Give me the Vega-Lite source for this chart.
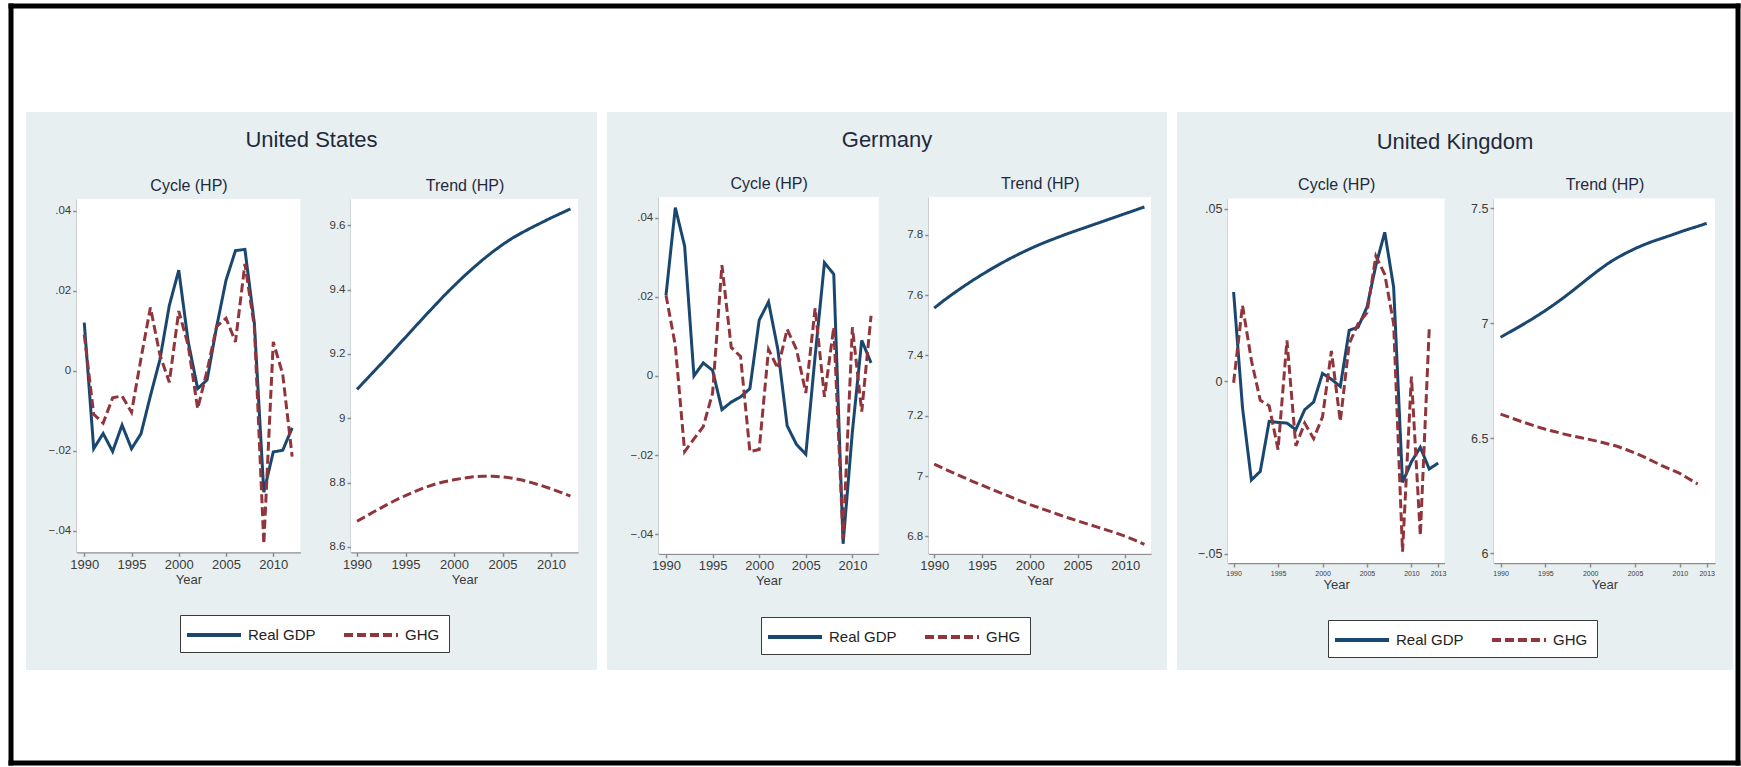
{
  "$schema": "https://vega.github.io/schema/vega-lite/v6.json",
  "padding": {"left": 7, "top": 5, "right": 2, "bottom": 0},
  "background": "white",
  "spacing": 10,
  "bounds": "flush",
  "datasets": {
    "us": [
      {"year":1990,"series":"Real GDP","cycle":0.012,"trend":9.09},
      {"year":1991,"series":"Real GDP","cycle":-0.0195,"trend":9.122},
      {"year":1992,"series":"Real GDP","cycle":-0.0157,"trend":9.154},
      {"year":1993,"series":"Real GDP","cycle":-0.0202,"trend":9.186},
      {"year":1994,"series":"Real GDP","cycle":-0.0136,"trend":9.219},
      {"year":1995,"series":"Real GDP","cycle":-0.0195,"trend":9.252},
      {"year":1996,"series":"Real GDP","cycle":-0.0158,"trend":9.285},
      {"year":1997,"series":"Real GDP","cycle":-0.0063,"trend":9.318},
      {"year":1998,"series":"Real GDP","cycle":0.0027,"trend":9.35},
      {"year":1999,"series":"Real GDP","cycle":0.0163,"trend":9.382},
      {"year":2000,"series":"Real GDP","cycle":0.0251,"trend":9.412},
      {"year":2001,"series":"Real GDP","cycle":0.0072,"trend":9.441},
      {"year":2002,"series":"Real GDP","cycle":-0.0045,"trend":9.468},
      {"year":2003,"series":"Real GDP","cycle":-0.0023,"trend":9.494},
      {"year":2004,"series":"Real GDP","cycle":0.0109,"trend":9.518},
      {"year":2005,"series":"Real GDP","cycle":0.0226,"trend":9.54},
      {"year":2006,"series":"Real GDP","cycle":0.03,"trend":9.56},
      {"year":2007,"series":"Real GDP","cycle":0.0303,"trend":9.577},
      {"year":2008,"series":"Real GDP","cycle":0.0118,"trend":9.593},
      {"year":2009,"series":"Real GDP","cycle":-0.0304,"trend":9.608},
      {"year":2010,"series":"Real GDP","cycle":-0.0203,"trend":9.623},
      {"year":2011,"series":"Real GDP","cycle":-0.0199,"trend":9.637},
      {"year":2012,"series":"Real GDP","cycle":-0.0143,"trend":9.651},
      {"year":1990,"series":"GHG","cycle":0.009,"trend":8.68},
      {"year":1991,"series":"GHG","cycle":-0.0109,"trend":8.697},
      {"year":1992,"series":"GHG","cycle":-0.0131,"trend":8.714},
      {"year":1993,"series":"GHG","cycle":-0.0068,"trend":8.73},
      {"year":1994,"series":"GHG","cycle":-0.0063,"trend":8.746},
      {"year":1995,"series":"GHG","cycle":-0.0104,"trend":8.76},
      {"year":1996,"series":"GHG","cycle":0.003,"trend":8.773},
      {"year":1997,"series":"GHG","cycle":0.0158,"trend":8.785},
      {"year":1998,"series":"GHG","cycle":0.004,"trend":8.795},
      {"year":1999,"series":"GHG","cycle":-0.0029,"trend":8.803},
      {"year":2000,"series":"GHG","cycle":0.0149,"trend":8.809},
      {"year":2001,"series":"GHG","cycle":0.0063,"trend":8.814},
      {"year":2002,"series":"GHG","cycle":-0.0095,"trend":8.818},
      {"year":2003,"series":"GHG","cycle":0.0,"trend":8.82},
      {"year":2004,"series":"GHG","cycle":0.011,"trend":8.82},
      {"year":2005,"series":"GHG","cycle":0.0131,"trend":8.818},
      {"year":2006,"series":"GHG","cycle":0.0072,"trend":8.814},
      {"year":2007,"series":"GHG","cycle":0.0267,"trend":8.808},
      {"year":2008,"series":"GHG","cycle":0.0109,"trend":8.8},
      {"year":2009,"series":"GHG","cycle":-0.0433,"trend":8.791},
      {"year":2010,"series":"GHG","cycle":0.0072,"trend":8.781},
      {"year":2011,"series":"GHG","cycle":-0.0009,"trend":8.77},
      {"year":2012,"series":"GHG","cycle":-0.0215,"trend":8.758}
    ],
    "de": [
      {"year":1990,"series":"Real GDP","cycle":0.0204,"trend":7.557},
      {"year":1991,"series":"Real GDP","cycle":0.0425,"trend":7.582},
      {"year":1992,"series":"Real GDP","cycle":0.0328,"trend":7.605},
      {"year":1993,"series":"Real GDP","cycle":0.0,"trend":7.627},
      {"year":1994,"series":"Real GDP","cycle":0.0033,"trend":7.648},
      {"year":1995,"series":"Real GDP","cycle":0.0014,"trend":7.668},
      {"year":1996,"series":"Real GDP","cycle":-0.0085,"trend":7.687},
      {"year":1997,"series":"Real GDP","cycle":-0.0066,"trend":7.705},
      {"year":1998,"series":"Real GDP","cycle":-0.0053,"trend":7.722},
      {"year":1999,"series":"Real GDP","cycle":-0.0032,"trend":7.738},
      {"year":2000,"series":"Real GDP","cycle":0.0141,"trend":7.753},
      {"year":2001,"series":"Real GDP","cycle":0.0187,"trend":7.767},
      {"year":2002,"series":"Real GDP","cycle":0.0067,"trend":7.78},
      {"year":2003,"series":"Real GDP","cycle":-0.0126,"trend":7.792},
      {"year":2004,"series":"Real GDP","cycle":-0.0173,"trend":7.804},
      {"year":2005,"series":"Real GDP","cycle":-0.0198,"trend":7.815},
      {"year":2006,"series":"Real GDP","cycle":0.005,"trend":7.826},
      {"year":2007,"series":"Real GDP","cycle":0.0286,"trend":7.837},
      {"year":2008,"series":"Real GDP","cycle":0.0257,"trend":7.848},
      {"year":2009,"series":"Real GDP","cycle":-0.0424,"trend":7.859},
      {"year":2010,"series":"Real GDP","cycle":-0.014,"trend":7.87},
      {"year":2011,"series":"Real GDP","cycle":0.009,"trend":7.881},
      {"year":2012,"series":"Real GDP","cycle":0.0033,"trend":7.892},
      {"year":1990,"series":"GHG","cycle":0.0204,"trend":7.04},
      {"year":1991,"series":"GHG","cycle":0.0077,"trend":7.025},
      {"year":1992,"series":"GHG","cycle":-0.0191,"trend":7.011},
      {"year":1993,"series":"GHG","cycle":-0.0159,"trend":6.997},
      {"year":1994,"series":"GHG","cycle":-0.0128,"trend":6.983},
      {"year":1995,"series":"GHG","cycle":-0.0043,"trend":6.97},
      {"year":1996,"series":"GHG","cycle":0.028,"trend":6.957},
      {"year":1997,"series":"GHG","cycle":0.0072,"trend":6.944},
      {"year":1998,"series":"GHG","cycle":0.0049,"trend":6.931},
      {"year":1999,"series":"GHG","cycle":-0.0191,"trend":6.918},
      {"year":2000,"series":"GHG","cycle":-0.0186,"trend":6.906},
      {"year":2001,"series":"GHG","cycle":0.0067,"trend":6.895},
      {"year":2002,"series":"GHG","cycle":0.0019,"trend":6.884},
      {"year":2003,"series":"GHG","cycle":0.0118,"trend":6.873},
      {"year":2004,"series":"GHG","cycle":0.0067,"trend":6.862},
      {"year":2005,"series":"GHG","cycle":-0.0043,"trend":6.852},
      {"year":2006,"series":"GHG","cycle":0.0171,"trend":6.842},
      {"year":2007,"series":"GHG","cycle":-0.0053,"trend":6.832},
      {"year":2008,"series":"GHG","cycle":0.0123,"trend":6.822},
      {"year":2009,"series":"GHG","cycle":-0.0412,"trend":6.812},
      {"year":2010,"series":"GHG","cycle":0.0123,"trend":6.801},
      {"year":2011,"series":"GHG","cycle":-0.009,"trend":6.788},
      {"year":2012,"series":"GHG","cycle":0.0152,"trend":6.774}
    ],
    "uk": [
      {"year":1990,"series":"Real GDP","cycle":0.0258,"trend":6.94},
      {"year":1991,"series":"Real GDP","cycle":-0.0077,"trend":6.962},
      {"year":1992,"series":"Real GDP","cycle":-0.0287,"trend":6.984},
      {"year":1993,"series":"Real GDP","cycle":-0.0262,"trend":7.007},
      {"year":1994,"series":"Real GDP","cycle":-0.0117,"trend":7.031},
      {"year":1995,"series":"Real GDP","cycle":-0.012,"trend":7.056},
      {"year":1996,"series":"Real GDP","cycle":-0.0122,"trend":7.083},
      {"year":1997,"series":"Real GDP","cycle":-0.0141,"trend":7.111},
      {"year":1998,"series":"Real GDP","cycle":-0.0083,"trend":7.141},
      {"year":1999,"series":"Real GDP","cycle":-0.0061,"trend":7.172},
      {"year":2000,"series":"Real GDP","cycle":0.0022,"trend":7.203},
      {"year":2001,"series":"Real GDP","cycle":0.0005,"trend":7.233},
      {"year":2002,"series":"Real GDP","cycle":-0.0016,"trend":7.261},
      {"year":2003,"series":"Real GDP","cycle":0.0147,"trend":7.285},
      {"year":2004,"series":"Real GDP","cycle":0.0156,"trend":7.306},
      {"year":2005,"series":"Real GDP","cycle":0.0214,"trend":7.325},
      {"year":2006,"series":"Real GDP","cycle":0.0335,"trend":7.342},
      {"year":2007,"series":"Real GDP","cycle":0.0431,"trend":7.357},
      {"year":2008,"series":"Real GDP","cycle":0.0272,"trend":7.37},
      {"year":2009,"series":"Real GDP","cycle":-0.0294,"trend":7.383},
      {"year":2010,"series":"Real GDP","cycle":-0.0234,"trend":7.397},
      {"year":2011,"series":"Real GDP","cycle":-0.0192,"trend":7.41},
      {"year":2012,"series":"Real GDP","cycle":-0.0255,"trend":7.422},
      {"year":2013,"series":"Real GDP","cycle":-0.0238,"trend":7.435},
      {"year":1990,"series":"GHG","cycle":-0.0005,"trend":6.606},
      {"year":1991,"series":"GHG","cycle":0.0219,"trend":6.592},
      {"year":1992,"series":"GHG","cycle":0.006,"trend":6.578},
      {"year":1993,"series":"GHG","cycle":-0.0056,"trend":6.565},
      {"year":1994,"series":"GHG","cycle":-0.0072,"trend":6.552},
      {"year":1995,"series":"GHG","cycle":-0.0199,"trend":6.54},
      {"year":1996,"series":"GHG","cycle":0.0118,"trend":6.53},
      {"year":1997,"series":"GHG","cycle":-0.0188,"trend":6.52},
      {"year":1998,"series":"GHG","cycle":-0.0122,"trend":6.511},
      {"year":1999,"series":"GHG","cycle":-0.0167,"trend":6.503},
      {"year":2000,"series":"GHG","cycle":-0.0104,"trend":6.495},
      {"year":2001,"series":"GHG","cycle":0.0087,"trend":6.486},
      {"year":2002,"series":"GHG","cycle":-0.0117,"trend":6.476},
      {"year":2003,"series":"GHG","cycle":0.0108,"trend":6.466},
      {"year":2004,"series":"GHG","cycle":0.0166,"trend":6.452},
      {"year":2005,"series":"GHG","cycle":0.0198,"trend":6.437},
      {"year":2006,"series":"GHG","cycle":0.0362,"trend":6.42},
      {"year":2007,"series":"GHG","cycle":0.0309,"trend":6.401},
      {"year":2008,"series":"GHG","cycle":0.0166,"trend":6.382},
      {"year":2009,"series":"GHG","cycle":-0.0495,"trend":6.365},
      {"year":2010,"series":"GHG","cycle":0.0013,"trend":6.348},
      {"year":2011,"series":"GHG","cycle":-0.0448,"trend":6.325},
      {"year":2012,"series":"GHG","cycle":0.015,"trend":6.302}
    ]
  },
  "resolve": {"scale": {"color": "independent", "strokeDash": "independent"}},
  "hconcat": [
    {
      "width": 571, "height": 558,
      "data": {"name": "us"},
      "view": {"fill": "#e8eff1", "stroke": null},
      "title": {"text": "United States"},
      "resolve": {"scale": {"x": "independent", "y": "independent"}},
      "layer": [
        {
          "resolve": {"axis": {"x": "independent"}},
          "layer": [
            {
              "data": {"values": [{}]},
              "mark": {"type": "rect", "fill": "white"},
              "encoding": {
                "x": {"datum": 1989.2, "type": "quantitative", "scale": {"domain": [1989.2, 2012.86], "range": [50.7, 274.3], "nice": false, "zero": false},
                      "axis": {"orient": "top", "offset": -87, "title": "Cycle (HP)", "labels": false, "ticks": false, "domain": false, "grid": false, "titleFontSize": 16, "titlePadding": 6, "titleColor": "#1f2a3c"}},
                "x2": {"datum": 2012.86},
                "y": {"datum": -0.0454, "type": "quantitative", "scale": {"domain": [-0.0454, 0.0429], "range": [440.3, 87], "nice": false, "zero": false},
                      "axis": {"orient": "left", "offset": -50.7, "values": [-0.04, -0.02, 0, 0.02, 0.04], "labelExpr": "replace(format(datum.value, '.2~f'), '0.', '.')", "title": null, "grid": true}},
                "y2": {"datum": 0.0429}
              }
            },
            {
              "mark": {"type": "line", "strokeWidth": 3},
              "encoding": {
                "x": {"field": "year", "type": "quantitative", "scale": {"domain": [1989.2, 2012.86], "range": [50.7, 274.3], "nice": false, "zero": false},
                      "axis": {"orient": "bottom", "offset": -117.7, "values": [1990, 1995, 2000, 2005, 2010], "format": "d", "title": "Year", "grid": false, "labelFlush": false, "titlePadding": 2}},
                "y": {"field": "cycle", "type": "quantitative", "scale": {"domain": [-0.0454, 0.0429], "range": [440.3, 87], "nice": false, "zero": false},
                      "axis": {"orient": "left", "offset": -50.7, "values": [-0.04, -0.02, 0, 0.02, 0.04], "labelExpr": "replace(format(datum.value, '.2~f'), '0.', '.')", "title": null, "grid": true}},
                "color": {"field": "series", "type": "nominal", "scale": {"domain": ["Real GDP", "GHG"], "range": ["#1a476f", "#90353b"]},
                          "legend": {"orient": "none", "legendX": 154, "legendY": 503, "direction": "horizontal", "title": null}},
                "strokeDash": {"field": "series", "type": "nominal", "scale": {"domain": ["Real GDP", "GHG"], "range": [[1, 0], [9, 4]]},
                          "legend": {"orient": "none", "legendX": 154, "legendY": 503, "direction": "horizontal", "title": null}}
              }
            }
          ]
        },
        {
          "resolve": {"axis": {"x": "independent"}},
          "layer": [
            {
              "data": {"values": [{}]},
              "mark": {"type": "rect", "fill": "white"},
              "encoding": {
                "x": {"datum": 1989.38, "type": "quantitative", "scale": {"domain": [1989.38, 2012.78], "range": [325, 552], "nice": false, "zero": false},
                      "axis": {"orient": "top", "offset": -87, "title": "Trend (HP)", "labels": false, "ticks": false, "domain": false, "grid": false, "titleFontSize": 16, "titlePadding": 6, "titleColor": "#1f2a3c"}},
                "x2": {"datum": 2012.78},
                "y": {"datum": 8.5835, "type": "quantitative", "scale": {"domain": [8.5835, 9.6818], "range": [440.3, 87], "nice": false, "zero": false},
                      "axis": {"orient": "left", "offset": -325, "values": [8.6, 8.8, 9, 9.2, 9.4, 9.6], "format": ".1~f", "title": null, "grid": true}},
                "y2": {"datum": 9.6818}
              }
            },
            {
              "mark": {"type": "line", "strokeWidth": 3},
              "encoding": {
                "x": {"field": "year", "type": "quantitative", "scale": {"domain": [1989.38, 2012.78], "range": [325, 552], "nice": false, "zero": false},
                      "axis": {"orient": "bottom", "offset": -117.7, "values": [1990, 1995, 2000, 2005, 2010], "format": "d", "title": "Year", "grid": false, "labelFlush": false, "titlePadding": 2}},
                "y": {"field": "trend", "type": "quantitative", "scale": {"domain": [8.5835, 9.6818], "range": [440.3, 87], "nice": false, "zero": false},
                      "axis": {"orient": "left", "offset": -325, "values": [8.6, 8.8, 9, 9.2, 9.4, 9.6], "format": ".1~f", "title": null, "grid": true}},
                "color": {"field": "series", "type": "nominal", "scale": {"domain": ["Real GDP", "GHG"], "range": ["#1a476f", "#90353b"]},
                          "legend": {"orient": "none", "legendX": 154, "legendY": 503, "direction": "horizontal", "title": null}},
                "strokeDash": {"field": "series", "type": "nominal", "scale": {"domain": ["Real GDP", "GHG"], "range": [[1, 0], [9, 4]]},
                          "legend": {"orient": "none", "legendX": 154, "legendY": 503, "direction": "horizontal", "title": null}}
              }
            }
          ]
        }
      ]
    },
    {
      "width": 560, "height": 558,
      "data": {"name": "de"},
      "view": {"fill": "#e8eff1", "stroke": null},
      "title": {"text": "Germany"},
      "resolve": {"scale": {"x": "independent", "y": "independent"}},
      "layer": [
        {
          "resolve": {"axis": {"x": "independent"}},
          "layer": [
            {
              "data": {"values": [{}]},
              "mark": {"type": "rect", "fill": "white"},
              "encoding": {
                "x": {"datum": 1989.217, "type": "quantitative", "scale": {"domain": [1989.217, 2012.82], "range": [51.7, 271.7], "nice": false, "zero": false},
                      "axis": {"orient": "top", "offset": -85, "title": "Cycle (HP)", "labels": false, "ticks": false, "domain": false, "grid": false, "titleFontSize": 16, "titlePadding": 6, "titleColor": "#1f2a3c"}},
                "x2": {"datum": 2012.82},
                "y": {"datum": -0.0449, "type": "quantitative", "scale": {"domain": [-0.0449, 0.0452], "range": [441.7, 85], "nice": false, "zero": false},
                      "axis": {"orient": "left", "offset": -51.7, "values": [-0.04, -0.02, 0, 0.02, 0.04], "labelExpr": "replace(format(datum.value, '.2~f'), '0.', '.')", "title": null, "grid": true}},
                "y2": {"datum": 0.0452}
              }
            },
            {
              "mark": {"type": "line", "strokeWidth": 3},
              "encoding": {
                "x": {"field": "year", "type": "quantitative", "scale": {"domain": [1989.217, 2012.82], "range": [51.7, 271.7], "nice": false, "zero": false},
                      "axis": {"orient": "bottom", "offset": -116.3, "values": [1990, 1995, 2000, 2005, 2010], "format": "d", "title": "Year", "grid": false, "labelFlush": false, "titlePadding": 2}},
                "y": {"field": "cycle", "type": "quantitative", "scale": {"domain": [-0.0449, 0.0452], "range": [441.7, 85], "nice": false, "zero": false},
                      "axis": {"orient": "left", "offset": -51.7, "values": [-0.04, -0.02, 0, 0.02, 0.04], "labelExpr": "replace(format(datum.value, '.2~f'), '0.', '.')", "title": null, "grid": true}},
                "color": {"field": "series", "type": "nominal", "scale": {"domain": ["Real GDP", "GHG"], "range": ["#1a476f", "#90353b"]},
                          "legend": {"orient": "none", "legendX": 154, "legendY": 505, "direction": "horizontal", "title": null}},
                "strokeDash": {"field": "series", "type": "nominal", "scale": {"domain": ["Real GDP", "GHG"], "range": [[1, 0], [9, 4]]},
                          "legend": {"orient": "none", "legendX": 154, "legendY": 505, "direction": "horizontal", "title": null}}
              }
            }
          ]
        },
        {
          "resolve": {"axis": {"x": "independent"}},
          "layer": [
            {
              "data": {"values": [{}]},
              "mark": {"type": "rect", "fill": "white"},
              "encoding": {
                "x": {"datum": 1989.424, "type": "quantitative", "scale": {"domain": [1989.424, 2012.69], "range": [321.7, 544], "nice": false, "zero": false},
                      "axis": {"orient": "top", "offset": -85, "title": "Trend (HP)", "labels": false, "ticks": false, "domain": false, "grid": false, "titleFontSize": 16, "titlePadding": 6, "titleColor": "#1f2a3c"}},
                "x2": {"datum": 2012.69},
                "y": {"datum": 6.743, "type": "quantitative", "scale": {"domain": [6.743, 7.925], "range": [441.7, 85], "nice": false, "zero": false},
                      "axis": {"orient": "left", "offset": -321.7, "values": [6.8, 7, 7.2, 7.4, 7.6, 7.8], "format": ".1~f", "title": null, "grid": true}},
                "y2": {"datum": 7.925}
              }
            },
            {
              "mark": {"type": "line", "strokeWidth": 3},
              "encoding": {
                "x": {"field": "year", "type": "quantitative", "scale": {"domain": [1989.424, 2012.69], "range": [321.7, 544], "nice": false, "zero": false},
                      "axis": {"orient": "bottom", "offset": -116.3, "values": [1990, 1995, 2000, 2005, 2010], "format": "d", "title": "Year", "grid": false, "labelFlush": false, "titlePadding": 2}},
                "y": {"field": "trend", "type": "quantitative", "scale": {"domain": [6.743, 7.925], "range": [441.7, 85], "nice": false, "zero": false},
                      "axis": {"orient": "left", "offset": -321.7, "values": [6.8, 7, 7.2, 7.4, 7.6, 7.8], "format": ".1~f", "title": null, "grid": true}},
                "color": {"field": "series", "type": "nominal", "scale": {"domain": ["Real GDP", "GHG"], "range": ["#1a476f", "#90353b"]},
                          "legend": {"orient": "none", "legendX": 154, "legendY": 505, "direction": "horizontal", "title": null}},
                "strokeDash": {"field": "series", "type": "nominal", "scale": {"domain": ["Real GDP", "GHG"], "range": [[1, 0], [9, 4]]},
                          "legend": {"orient": "none", "legendX": 154, "legendY": 505, "direction": "horizontal", "title": null}}
              }
            }
          ]
        }
      ]
    },
    {
      "width": 556, "height": 558,
      "data": {"name": "uk"},
      "view": {"fill": "#e8eff1", "stroke": null},
      "title": {"text": "United Kingdom", "offset": -148},
      "resolve": {"scale": {"x": "independent", "y": "independent"}},
      "layer": [
        {
          "resolve": {"axis": {"x": "independent"}},
          "layer": [
            {
              "data": {"values": [{}]},
              "mark": {"type": "rect", "fill": "white"},
              "encoding": {
                "x": {"datum": 1989.37, "type": "quantitative", "scale": {"domain": [1989.37, 2013.72], "range": [51, 267.5], "nice": false, "zero": false},
                      "axis": {"orient": "top", "offset": -86.5, "title": "Cycle (HP)", "labels": false, "ticks": false, "domain": false, "grid": false, "titleFontSize": 16, "titlePadding": 6, "titleColor": "#1f2a3c"}},
                "x2": {"datum": 2013.72},
                "y": {"datum": -0.05275, "type": "quantitative", "scale": {"domain": [-0.05275, 0.0529], "range": [451, 86.5], "nice": false, "zero": false},
                      "axis": {"orient": "left", "offset": -51, "values": [-0.05, 0, 0.05], "labelExpr": "replace(format(datum.value, '.2~f'), '0.', '.')", "title": null, "grid": true, "labelFontSize": 12.5}},
                "y2": {"datum": 0.0529}
              }
            },
            {
              "mark": {"type": "line", "strokeWidth": 3},
              "encoding": {
                "x": {"field": "year", "type": "quantitative", "scale": {"domain": [1989.37, 2013.72], "range": [51, 267.5], "nice": false, "zero": false},
                      "axis": {"orient": "bottom", "offset": -107, "values": [1990, 1995, 2000, 2005, 2010, 2013], "format": "d", "title": "Year", "grid": false, "labelFlush": false, "labelFontSize": 7, "titlePadding": 2}},
                "y": {"field": "cycle", "type": "quantitative", "scale": {"domain": [-0.05275, 0.0529], "range": [451, 86.5], "nice": false, "zero": false},
                      "axis": {"orient": "left", "offset": -51, "values": [-0.05, 0, 0.05], "labelExpr": "replace(format(datum.value, '.2~f'), '0.', '.')", "title": null, "grid": true, "labelFontSize": 12.5}},
                "color": {"field": "series", "type": "nominal", "scale": {"domain": ["Real GDP", "GHG"], "range": ["#1a476f", "#90353b"]},
                          "legend": {"orient": "none", "legendX": 151, "legendY": 508, "direction": "horizontal", "title": null}},
                "strokeDash": {"field": "series", "type": "nominal", "scale": {"domain": ["Real GDP", "GHG"], "range": [[1, 0], [9, 4]]},
                          "legend": {"orient": "none", "legendX": 151, "legendY": 508, "direction": "horizontal", "title": null}}
              }
            }
          ]
        },
        {
          "resolve": {"axis": {"x": "independent"}},
          "layer": [
            {
              "data": {"values": [{}]},
              "mark": {"type": "rect", "fill": "white"},
              "encoding": {
                "x": {"datum": 1989.263, "type": "quantitative", "scale": {"domain": [1989.263, 2013.93], "range": [317, 538], "nice": false, "zero": false},
                      "axis": {"orient": "top", "offset": -86.5, "title": "Trend (HP)", "labels": false, "ticks": false, "domain": false, "grid": false, "titleFontSize": 16, "titlePadding": 6, "titleColor": "#1f2a3c"}},
                "x2": {"datum": 2013.93},
                "y": {"datum": 5.9587, "type": "quantitative", "scale": {"domain": [5.9587, 7.543], "range": [451, 86.5], "nice": false, "zero": false},
                      "axis": {"orient": "left", "offset": -317, "values": [6, 6.5, 7, 7.5], "format": ".1~f", "title": null, "grid": true, "labelFontSize": 12.5}},
                "y2": {"datum": 7.543}
              }
            },
            {
              "mark": {"type": "line", "strokeWidth": 3},
              "encoding": {
                "x": {"field": "year", "type": "quantitative", "scale": {"domain": [1989.263, 2013.93], "range": [317, 538], "nice": false, "zero": false},
                      "axis": {"orient": "bottom", "offset": -107, "values": [1990, 1995, 2000, 2005, 2010, 2013], "format": "d", "title": "Year", "grid": false, "labelFlush": false, "labelFontSize": 7, "titlePadding": 2}},
                "y": {"field": "trend", "type": "quantitative", "scale": {"domain": [5.9587, 7.543], "range": [451, 86.5], "nice": false, "zero": false},
                      "axis": {"orient": "left", "offset": -317, "values": [6, 6.5, 7, 7.5], "format": ".1~f", "title": null, "grid": true, "labelFontSize": 12.5}},
                "color": {"field": "series", "type": "nominal", "scale": {"domain": ["Real GDP", "GHG"], "range": ["#1a476f", "#90353b"]},
                          "legend": {"orient": "none", "legendX": 151, "legendY": 508, "direction": "horizontal", "title": null}},
                "strokeDash": {"field": "series", "type": "nominal", "scale": {"domain": ["Real GDP", "GHG"], "range": [[1, 0], [9, 4]]},
                          "legend": {"orient": "none", "legendX": 151, "legendY": 508, "direction": "horizontal", "title": null}}
              }
            }
          ]
        },
        {
          "resolve": {"axis": {"x": "independent", "y": "independent"}},
          "layer": [
            {
              "data": {"values": [{}]},
              "mark": {"type": "point", "opacity": 0, "size": 1},
              "encoding": {
                "x": {"datum": 0, "type": "quantitative", "scale": {"domain": [0, 1], "range": [-1169, 563], "nice": false, "zero": false},
                      "axis": {"orient": "top", "offset": 106.5, "domain": true, "domainColor": "black", "domainWidth": 5, "labels": false, "ticks": false, "grid": false, "title": null}},
                "y": {"datum": 0, "type": "quantitative", "scale": {"domain": [0, 1], "range": [653, -109], "nice": false, "zero": false},
                      "axis": {"orient": "left", "offset": 1166.5, "domain": true, "domainColor": "black", "domainWidth": 5, "labels": false, "ticks": false, "grid": false, "title": null}}
              }
            },
            {
              "data": {"values": [{}]},
              "mark": {"type": "point", "opacity": 0, "size": 1},
              "encoding": {
                "x": {"datum": 0, "type": "quantitative", "scale": {"domain": [0, 1], "range": [-1169, 563], "nice": false, "zero": false},
                      "axis": {"orient": "bottom", "offset": 92.5, "domain": true, "domainColor": "black", "domainWidth": 5, "labels": false, "ticks": false, "grid": false, "title": null}},
                "y": {"datum": 0, "type": "quantitative", "scale": {"domain": [0, 1], "range": [653, -109], "nice": false, "zero": false},
                      "axis": {"orient": "right", "offset": 4.5, "domain": true, "domainColor": "black", "domainWidth": 5, "labels": false, "ticks": false, "grid": false, "title": null}}
              }
            }
          ]
        }
      ]
    }
  ],
  "config": {
    "font": "Liberation Sans, Arial, sans-serif",
    "view": {"stroke": null},
    "axis": {
      "domainColor": "#8c8c8c", "domainWidth": 1.5,
      "tickColor": "#8c8c8c", "tickWidth": 1.5, "tickSize": 4,
      "labelColor": "#3a3a3a", "labelFont": "Liberation Sans, Arial, sans-serif", "labelFontSize": 11.5,
      "titleFont": "Liberation Sans, Arial, sans-serif", "titleFontSize": 13,
      "titleFontWeight": "normal", "titleColor": "#3a3a3a",
      "gridColor": "#e4edf0", "gridWidth": 2,
      "labelPadding": 2,
      "zindex": 1
    },
    "axisX": {"labelFontSize": 13},
    "legend": {
      "fillColor": "white", "strokeColor": "#3a3a3a", "padding": 9,
      "symbolType": "M-1.444,0H4.556", "symbolSize": 324, "symbolOffset": 0, "symbolStrokeWidth": 4,
      "labelFontSize": 15, "labelOffset": 37, "columnPadding": 20,
      "labelColor": "#222222",
      "labelFont": "Liberation Sans, Arial, sans-serif"
    },
    "title": {
      "font": "Liberation Sans, Arial, sans-serif",
      "fontSize": 22, "fontWeight": "normal", "color": "#1f2a3c",
      "anchor": "middle", "frame": "group", "offset": -40, "baseline": "alphabetic"
    }
  }
}
